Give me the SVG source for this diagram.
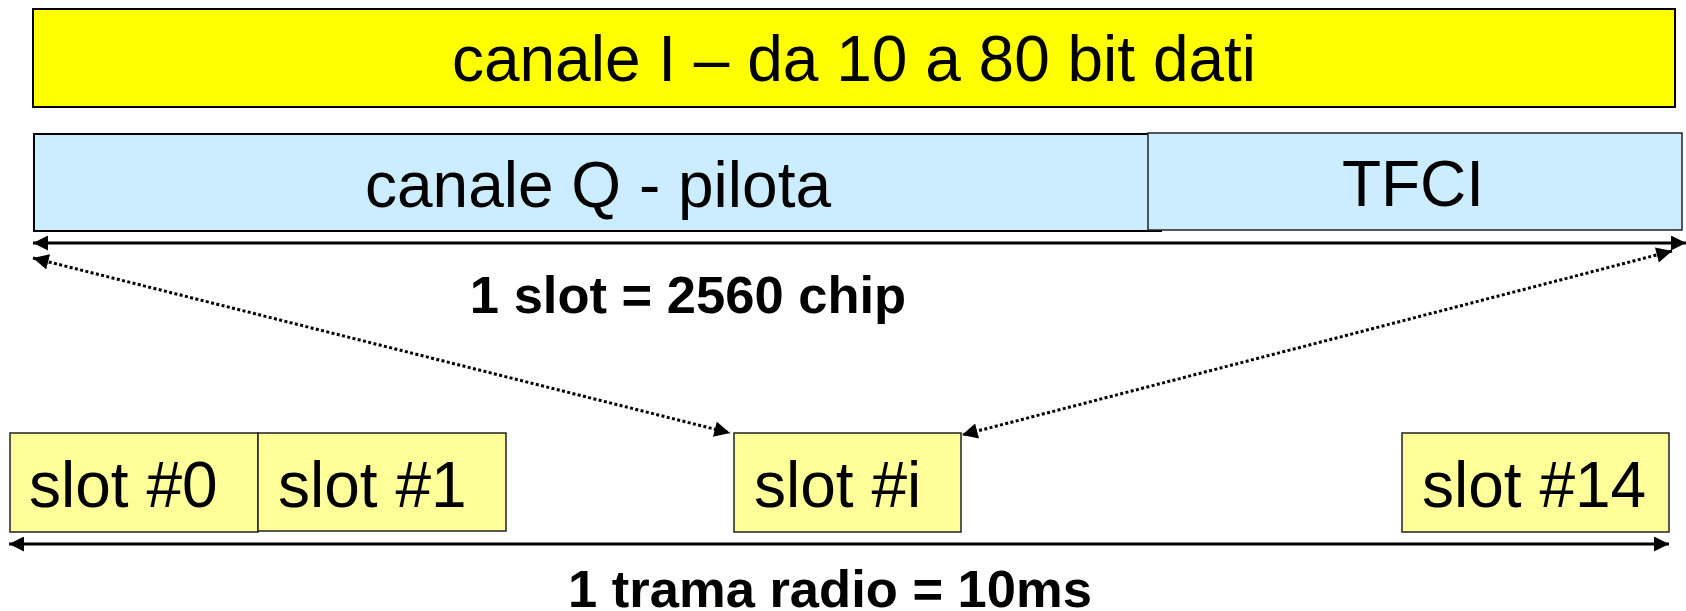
<svg xmlns="http://www.w3.org/2000/svg" width="1686" height="611" viewBox="0 0 1686 611">
<defs>
<style>
.reg{font-family:"Liberation Sans",Arial,sans-serif;fill:#000;font-size:64px}
.mid{text-anchor:middle}
.bold{font-family:"Liberation Sans",Arial,sans-serif;font-weight:bold;fill:#000;text-anchor:middle;font-size:52.5px}
.box{stroke:#000;stroke-width:2}
.slot{fill:#FFFF99;stroke:#222;stroke-width:1.5}
.solid{stroke:#000;stroke-width:3;fill:none}
.dot{stroke:#000;stroke-width:3;fill:none;stroke-dasharray:3 2.4}
</style>
<marker id="ah" viewBox="0 0 10 10" refX="10" refY="5" markerWidth="5.3" markerHeight="5" orient="auto-start-reverse" markerUnits="strokeWidth">
<path d="M0,0 L10,5 L0,10 z" fill="#000"/>
</marker>
<marker id="ad" viewBox="0 0 10 10" refX="10" refY="5" markerWidth="5.4" markerHeight="5.2" orient="auto-start-reverse" markerUnits="strokeWidth">
<path d="M0,0 L10,5 L0,10 z" fill="#000"/>
</marker>
</defs>
<g id="canale-i">
<rect class="box" x="33" y="9" width="1642" height="98" fill="#FFFF00"/>
<text class="reg mid" x="854" y="81">canale I – da 10 a 80 bit dati</text>
</g>
<g id="canale-q">
<rect class="box" x="34" y="134" width="1127" height="97" fill="#CCECFF"/>
<text class="reg mid" x="598" y="207">canale Q - pilota</text>
</g>
<g id="tfci">
<rect x="1148" y="133" width="534" height="97" fill="#CCECFF" stroke="#222" stroke-width="1.5"/>
<text class="reg mid" x="1413" y="206">TFCI</text>
</g>
<g id="slot0">
<rect class="slot" x="10" y="433" width="248" height="99"/>
<text class="reg" x="29" y="507">slot #0</text>
</g>
<g id="slot1">
<rect class="slot" x="258" y="433" width="248" height="98"/>
<text class="reg" x="278" y="507">slot #1</text>
</g>
<g id="sloti">
<rect class="slot" x="734" y="433" width="227" height="99"/>
<text class="reg" x="754" y="507">slot #i</text>
</g>
<g id="slot14">
<rect class="slot" x="1402" y="433" width="267" height="99"/>
<text class="reg" x="1422" y="507">slot #14</text>
</g>
<g id="labels">
<text class="bold" x="688" y="313">1 slot = 2560 chip</text>
<text class="bold" x="830" y="607">1 trama radio = 10ms</text>
</g>
<g id="connectors">
<line class="solid" x1="33" y1="243" x2="1686" y2="243" marker-start="url(#ah)" marker-end="url(#ah)"/>
<line class="solid" x1="9" y1="544" x2="1669" y2="544" marker-start="url(#ah)" marker-end="url(#ah)"/>
<line class="dot" x1="33" y1="258" x2="730" y2="433" marker-start="url(#ad)" marker-end="url(#ad)"/>
<line class="dot" x1="1672" y1="251" x2="962" y2="435" marker-start="url(#ad)" marker-end="url(#ad)"/>
</g>
</svg>
